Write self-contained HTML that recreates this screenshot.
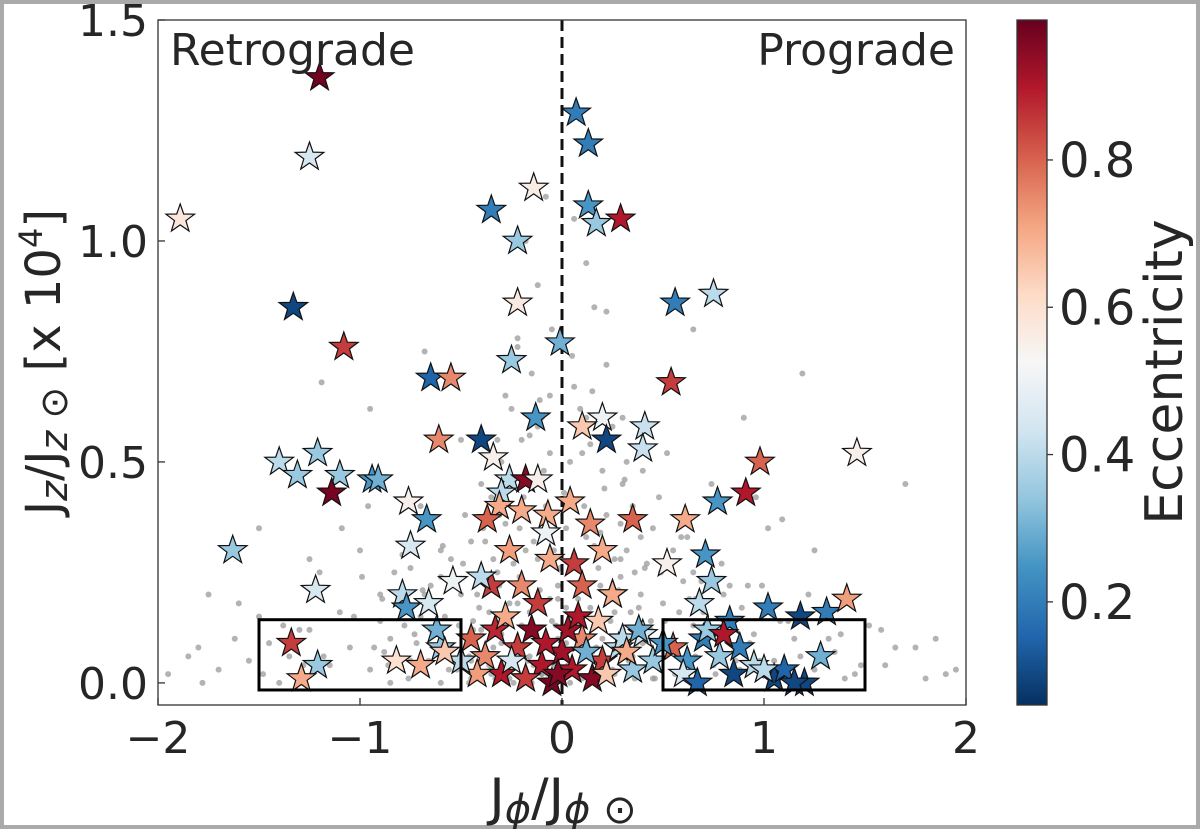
<!DOCTYPE html>
<html><head><meta charset="utf-8">
<style>
html,body{margin:0;padding:0;background:#fff}
#frame{position:absolute;left:0;top:0;width:1192px;height:821px;border:4px solid #aaa;background:#fff}
svg{position:absolute;left:0;top:0}
text{font-family:"DejaVu Sans","Liberation Sans",sans-serif;fill:#262626}
</style></head><body>
<div id="frame"></div>
<svg id="chart" width="1200" height="829"></svg>
<script>
// star data: x (Jphi), y (Jz), eccentricity
const starX=[-1.20,-1.25,-1.89,-1.33,-1.08,0.07,0.13,-0.14,-0.35,-0.22,0.13,0.17,0.29,-0.22,0.56,0.75,-0.01,-0.25,-0.65,-0.55,0.54,-0.13,0.20,0.10,0.41,0.22,0.40,-0.61,-0.40,-1.21,-1.40,-1.31,-1.10,-0.94,-1.14,-0.91,-0.34,-0.26,-0.18,-0.12,-0.30,-0.31,-0.76,-0.67,-0.37,-0.20,-0.07,0.04,0.14,0.35,0.61,0.77,0.91,0.98,1.46,-0.75,-1.63,-0.26,-0.08,-0.06,0.06,0.20,0.52,0.71,0.74,-0.54,-1.22,-0.79,-0.66,-0.77,-0.35,0.68,1.02,1.18,1.31,1.41,-1.34,-1.21,-1.29,
-0.45,-0.38,-0.30,-0.22,-0.15,-0.10,-0.05,0.00,0.05,0.10,0.15,0.20,0.28,0.35,-0.42,-0.33,-0.25,-0.18,-0.08,0.03,0.12,0.22,0.30,-0.28,-0.12,0.08,0.18,0.40,0.45,-0.02,0.25,-0.50,-0.60,-0.70,-0.82,-0.62,0.55,0.62,0.70,0.78,0.85,0.95,1.05,1.10,1.20,1.28,0.60,0.72,0.88,1.00,1.15,0.67,0.83,0.50,0.32,-0.20,0.10,-0.40,0.25,0.38,-0.58,0.80];
const starY=[1.37,1.19,1.05,0.85,0.76,1.29,1.22,1.12,1.07,1.00,1.08,1.04,1.05,0.86,0.86,0.88,0.77,0.73,0.69,0.69,0.68,0.60,0.60,0.58,0.58,0.55,0.53,0.55,0.55,0.52,0.50,0.47,0.47,0.46,0.43,0.46,0.51,0.46,0.46,0.46,0.43,0.40,0.41,0.37,0.37,0.39,0.38,0.41,0.36,0.37,0.37,0.41,0.43,0.50,0.52,0.31,0.30,0.30,0.34,0.28,0.27,0.30,0.27,0.29,0.23,0.23,0.21,0.20,0.18,0.17,0.22,0.18,0.17,0.15,0.16,0.19,0.09,0.04,0.01,
0.10,0.06,0.02,0.08,0.12,0.04,0.00,0.07,0.03,0.10,0.01,0.05,0.08,0.03,0.02,0.12,0.05,0.01,0.09,0.12,0.07,0.02,0.10,0.15,0.18,0.15,0.14,0.11,0.05,0.02,0.20,0.05,0.08,0.04,0.05,0.12,0.08,0.05,0.10,0.06,0.02,0.04,0.01,0.03,0.00,0.06,0.02,0.12,0.08,0.03,0.00,0.00,0.14,0.09,0.07,0.22,0.22,0.24,0.20,0.12,0.07,0.11];
const starE=[0.98,0.45,0.58,0.10,0.85,0.20,0.20,0.56,0.20,0.35,0.25,0.35,0.90,0.57,0.20,0.40,0.30,0.35,0.15,0.75,0.85,0.25,0.50,0.65,0.42,0.10,0.42,0.75,0.10,0.35,0.40,0.35,0.35,0.25,0.97,0.30,0.55,0.40,0.95,0.55,0.40,0.70,0.55,0.25,0.80,0.70,0.70,0.70,0.75,0.80,0.70,0.25,0.90,0.80,0.55,0.45,0.35,0.72,0.50,0.70,0.85,0.70,0.55,0.25,0.35,0.50,0.45,0.40,0.45,0.25,0.85,0.40,0.20,0.10,0.20,0.72,0.85,0.35,0.70,
0.80,0.75,0.90,0.85,0.95,0.90,0.97,0.92,0.90,0.75,0.95,0.85,0.40,0.35,0.72,0.88,0.45,0.85,0.90,0.92,0.30,0.65,0.40,0.70,0.85,0.90,0.65,0.45,0.35,0.95,0.30,0.40,0.35,0.70,0.60,0.30,0.80,0.25,0.20,0.35,0.10,0.40,0.10,0.15,0.10,0.30,0.45,0.35,0.20,0.40,0.10,0.15,0.20,0.25,0.70,0.75,0.80,0.40,0.70,0.30,0.65,0.90];
// gray background points
const grayX=[-0.45,-0.40,-0.35,-0.30,-0.25,-0.20,-0.15,-0.10,-0.05,0.00,0.05,0.10,0.15,0.20,0.25,0.30,0.35,0.40,0.45,-0.42,-0.32,-0.22,-0.12,-0.02,0.08,0.18,0.28,0.38,-0.38,-0.28,-0.18,-0.08,0.02,0.12,0.22,0.32,0.42,-0.55,-0.65,-0.75,-0.85,-0.95,0.55,0.65,0.75,0.85,0.95,1.05,-1.05,-1.15,-1.25,-1.35,1.15,1.25,1.35,1.45,-1.45,-1.55,-1.70,-1.85,1.60,1.75,1.90,-0.50,-0.60,-0.70,0.50,0.60,0.70,0.80,-0.80,-0.90,-0.30,-0.20,-0.10,0.10,0.20,0.30,-0.15,0.15,-0.05,0.05,-0.25,0.25,-0.35,0.35,-0.45,0.45,-0.55,0.55,-0.65,0.65,-0.12,0.12,-0.22,0.22,-0.32,0.32,-0.48,0.48,-0.60,0.62,-0.75,0.72,-0.90,0.92,-1.10,1.12,-1.30,1.32,-0.40,0.40,-0.28,0.30,-0.18,0.16,-0.08,0.06,-0.50,0.52,-0.70,0.74,-1.00,1.02,-1.20,1.22,-1.50,1.52,-1.80,1.85,-0.35,0.36,-0.05,0.04,-0.15,0.14,-0.60,0.58,-0.85,0.86,-1.40,1.40,-1.95,1.95,-0.25,0.26,0.45,-0.45,0.90,-0.95,0.65,-0.68,
-0.33,-0.27,-0.17,-0.07,0.03,0.13,0.23,0.33,-0.37,-0.23,-0.13,-0.03,0.07,0.17,0.27,0.37,-0.44,-0.36,-0.26,-0.16,-0.06,0.04,0.14,0.24,0.34,0.44,-0.52,-0.46,-0.41,-0.31,-0.21,-0.11,-0.01,0.09,0.19,0.29,0.39,0.49,0.57,-0.58,-0.68,-0.72,-0.78,-0.88,0.58,0.66,0.76,0.82,0.88,0.98,-0.34,-0.24,-0.14,-0.04,0.06,0.16,0.26,0.36,-0.29,-0.19,-0.09,0.01,0.11,0.21,0.31,-0.16,-0.06,0.04,0.14,-0.11,0.09,-0.21,0.19,-0.31,0.29,-0.41,0.41,-0.51,0.51,-0.63,0.63,-0.73,0.73,-0.83,0.83,-0.93,0.93,-1.03,1.08,-1.18,1.18,-1.28,1.28,-1.38,1.38,-1.48,1.48,-1.62,1.65,-1.78,1.80,-0.24,0.24,-0.14,0.14,-0.04,0.04,-0.34,0.34,-0.44,0.44,-0.19,0.19,-0.09,0.09,0.02,-0.02,-0.29,0.29,-0.39,0.39,-0.49,0.49,-0.59,0.59,-0.69,0.69,-0.79,0.79,-0.89,0.89,-0.99,0.99,-1.09,1.09,-1.19,1.19,-0.12,0.12,-0.22,0.22,-0.06,0.06,-0.16,0.16,-0.26,0.26,-0.36,0.36,-0.46,0.46,-0.56,0.56,-0.66,0.66,-0.76,0.76,-0.86,0.86,-0.10,0.10,-0.20,0.20,-0.30,0.30,-0.02,0.02,-1.60,1.58,-1.75,-1.50,1.70,-0.96,0.96,1.25,-1.25];
const grayY=[0.05,0.12,0.03,0.09,0.15,0.06,0.11,0.02,0.14,0.08,0.04,0.13,0.07,0.10,0.03,0.12,0.06,0.09,0.04,0.20,0.25,0.18,0.28,0.22,0.19,0.26,0.21,0.17,0.32,0.36,0.30,0.40,0.35,0.33,0.38,0.30,0.27,0.08,0.12,0.05,0.10,0.03,0.09,0.13,0.04,0.07,0.11,0.05,0.08,0.04,0.12,0.06,0.10,0.03,0.07,0.02,0.09,0.05,0.03,0.06,0.04,0.08,0.02,0.20,0.24,0.15,0.18,0.23,0.16,0.20,0.18,0.14,0.50,0.55,0.60,0.52,0.48,0.45,0.70,0.66,0.80,0.74,0.62,0.58,0.42,0.40,0.32,0.35,0.28,0.30,0.22,0.25,0.90,0.95,0.78,0.72,0.55,0.50,0.38,0.42,0.30,0.33,0.26,0.28,0.20,0.22,0.16,0.14,0.12,0.10,0.45,0.48,0.65,0.60,1.00,0.85,1.10,1.05,0.55,0.52,0.40,0.45,0.30,0.35,0.25,0.20,0.15,0.13,0.08,0.10,0.02,0.01,0.01,0.00,0.00,0.01,0.00,0.01,0.00,0.02,0.00,0.01,0.02,0.03,0.15,0.16,0.01,0.01,0.60,0.62,0.80,0.75,
0.01,0.03,0.05,0.02,0.04,0.06,0.02,0.05,0.07,0.09,0.11,0.13,0.10,0.08,0.07,0.09,0.14,0.16,0.18,0.16,0.19,0.15,0.17,0.14,0.16,0.12,0.03,0.06,0.17,0.22,0.24,0.21,0.26,0.23,0.22,0.24,0.20,0.10,0.06,0.15,0.20,0.09,0.13,0.07,0.16,0.19,0.11,0.14,0.03,0.05,0.28,0.27,0.32,0.30,0.29,0.31,0.28,0.25,0.44,0.42,0.48,0.43,0.40,0.44,0.46,0.56,0.52,0.50,0.54,0.64,0.62,0.35,0.34,0.38,0.36,0.24,0.26,0.13,0.14,0.18,0.19,0.11,0.12,0.25,0.22,0.08,0.09,0.15,0.14,0.06,0.06,0.04,0.05,0.13,0.11,0.02,0.04,0.10,0.08,0.00,0.01,0.00,0.02,0.04,0.06,0.04,0.02,0.08,0.07,0.12,0.14,0.02,0.03,0.08,0.10,0.17,0.19,0.30,0.28,0.35,0.33,0.27,0.25,0.31,0.33,0.21,0.23,0.29,0.27,0.19,0.17,0.24,0.22,0.35,0.37,0.68,0.70,0.58,0.60,0.76,0.84,0.65,0.67,0.06,0.05,0.01,0.02,0.04,0.03,0.00,0.01,0.03,0.02,0.05,0.06,0.01,0.02,0.04,0.05,0.02,0.01,0.13,0.14,0.11,0.12,0.10,0.09,0.18,0.12,0.20,0.35,0.45,0.40,0.42,0.30,0.28];
const xTicks=[-2,-1,0,1,2];
const xTickLabels=["\u22122","\u22121","0","1","2"];
const yTicks=[0,0.5,1.0,1.5];
const yTickLabels=["0.0","0.5","1.0","1.5"];
const cTicks=[0.2,0.4,0.6,0.8];
const cTickLabels=["0.2","0.4","0.6","0.8"];

const L=158,R=966,T=20,B=705;
const xmin=-2,xmax=2,ymin=-0.05,ymax=1.5;
const sx=v=>L+(v-xmin)/(xmax-xmin)*(R-L);
const sy=v=>B-(v-ymin)/(ymax-ymin)*(B-T);
const cmin=0.06,cmax=0.99,CL=1017,CR=1047;
const sc=v=>B-(v-cmin)/(cmax-cmin)*(B-T);
const stops=[[5,48,97],[33,102,172],[67,147,195],[146,197,222],[209,229,240],[247,247,247],[253,219,199],[244,165,130],[214,96,77],[178,24,43],[103,0,31]];
function cmap(e){let t=Math.max(0,Math.min(1,(e-cmin)/(cmax-cmin)))*10;let i=Math.min(9,Math.floor(t)),f=t-i;const a=stops[i],b=stops[i+1];return `rgb(${a.map((c,k)=>Math.round(c+(b[k]-c)*f)).join(',')})`;}
const svg=document.getElementById('chart');const NS='http://www.w3.org/2000/svg';
function mk(tag,at,parent){const e=document.createElementNS(NS,tag);for(const k in at)e.setAttribute(k,at[k]);(parent||svg).appendChild(e);return e;}
function starPath(cx,cy,ro,ri){let p=[];for(let i=0;i<10;i++){const r=i%2?ri:ro;const a=-Math.PI/2+i*Math.PI/5;p.push((cx+r*Math.cos(a)).toFixed(1)+','+(cy+r*Math.sin(a)).toFixed(1));}return p.join(' ');}
const defs=mk('defs',{});const cp=mk('clipPath',{id:'clip'},defs);mk('rect',{x:L,y:T,width:R-L,height:B-T},cp);
const g=mk('g',{'clip-path':'url(#clip)'});
for(let i=0;i<grayX.length;i++){const c=mk('circle',{cx:sx(grayX[i]),cy:sy(grayY[i]),r:3,fill:'#999','fill-opacity':0.75},g);

}
const dl=mk('line',{x1:sx(0),x2:sx(0),y1:T,y2:B,stroke:'#111','stroke-width':3,'stroke-dasharray':'11,6'},g);


for(let i=0;i<starX.length;i++){const s=mk('polygon',{points:starPath(sx(starX[i]),sy(starY[i]),15,6),fill:cmap(starE[i]),stroke:'#111','stroke-width':1.2},g);

}
[[-1.5,-0.5],[0.5,1.5]].forEach((b,i)=>{const r=mk('rect',{x:sx(b[0]),y:sy(0.143),width:sx(b[1])-sx(b[0]),height:sy(-0.016)-sy(0.143),fill:'none',stroke:'#000','stroke-width':3});

});
const ax=mk('rect',{x:L,y:T,width:R-L,height:B-T,fill:'none',stroke:'#333','stroke-width':1.3});


xTicks.forEach((v,i)=>{mk('line',{x1:sx(v),x2:sx(v),y1:B,y2:B-7,stroke:'#333','stroke-width':1.3});
const t=mk('text',{x:sx(v),y:B+48,'font-size':44,'text-anchor':'middle'});t.textContent=xTickLabels[i];

});
yTicks.forEach((v,i)=>{mk('line',{x1:L,x2:L+7,y1:sy(v),y2:sy(v),stroke:'#333','stroke-width':1.3});
const t=mk('text',{x:L-10,y:sy(v)+16,'font-size':44,'text-anchor':'end'});t.textContent=yTickLabels[i];

});
const lg=mk('linearGradient',{id:'cg',x1:0,y1:1,x2:0,y2:0},defs);
stops.forEach((s,i)=>mk('stop',{offset:i/10,'stop-color':`rgb(${s.join(',')})`},lg));
const cb=mk('rect',{x:CL,y:T,width:CR-CL,height:B-T,fill:'url(#cg)',stroke:'#333','stroke-width':1.3});


cTicks.forEach((v,i)=>{mk('line',{x1:CR,x2:CR+6,y1:sc(v),y2:sc(v),stroke:'#333','stroke-width':1.3});
const t=mk('text',{x:CR+12,y:sc(v)+17,'font-size':48});t.textContent=cTickLabels[i];

});
</script>
<svg width="1200" height="829" style="pointer-events:none">
<text x="170" y="65" font-size="44">Retrograde</text>
<text x="955" y="65" font-size="44" text-anchor="end">Prograde</text>
<text x="563" y="815" font-size="52" text-anchor="middle">J<tspan font-style="italic" font-size="40" dy="8">ϕ</tspan><tspan dy="-8">/J</tspan><tspan font-style="italic" font-size="40" dy="8">ϕ ⊙</tspan></text>
<text transform="translate(60,362) rotate(-90)" font-size="48" text-anchor="middle">J<tspan font-style="italic" font-size="38" dy="7">z</tspan><tspan dy="-7">/J</tspan><tspan font-style="italic" font-size="38" dy="7">z ⊙</tspan><tspan dy="-7"> [x 10</tspan><tspan font-size="32" dy="-18">4</tspan><tspan dy="18">]</tspan></text>
<text transform="translate(1182,372) rotate(-90)" font-size="52" text-anchor="middle">Eccentricity</text>
</svg>
</body></html>
